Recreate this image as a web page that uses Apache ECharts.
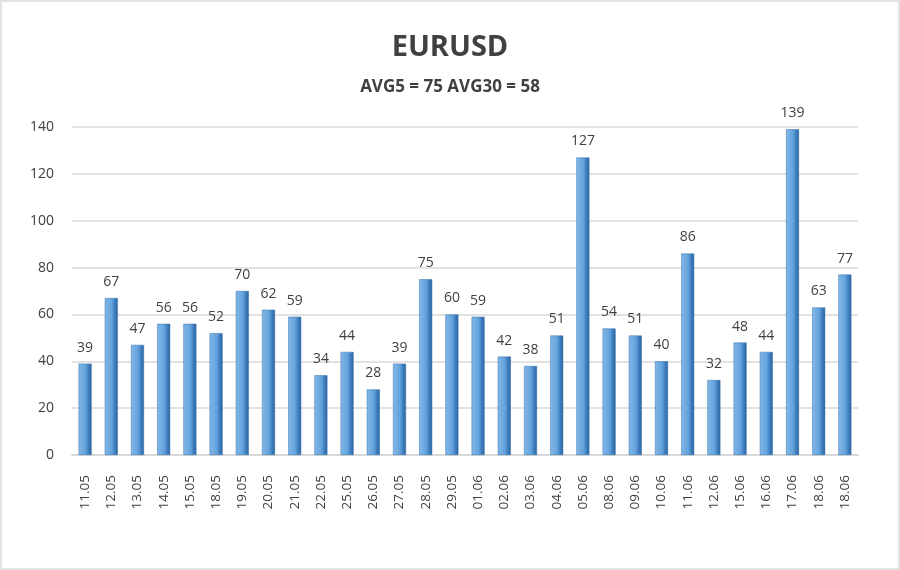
<!DOCTYPE html>
<html>
<head>
<meta charset="utf-8">
<script src="https://cdn.jsdelivr.net/npm/echarts@6/dist/echarts.min.js"></script>
<style>
  html, body { margin: 0; padding: 0; background: #fff; }
  #chart {
    width: 896px;
    height: 566px;
    border: 2px solid #e2e2e2;
  }
</style>
</head>
<body>
<div id="chart"></div>
<script>
// dates under each bar
const categories = ["11.05", "12.05", "13.05", "14.05", "15.05", "18.05", "19.05", "20.05", "21.05", "22.05",
  "25.05", "26.05", "27.05", "28.05", "29.05", "01.06", "02.06", "03.06", "04.06", "05.06",
  "08.06", "09.06", "10.06", "11.06", "12.06", "15.06", "16.06", "17.06", "18.06", "18.06"];
// daily volatility, points
const values = [39, 67, 47, 56, 56, 52, 70, 62, 59, 34,
  44, 28, 39, 75, 60, 59, 42, 38, 51, 127,
  54, 51, 40, 86, 32, 48, 44, 139, 63, 77];
const yTicks = [0, 20, 40, 60, 80, 100, 120, 140];
const titleText = "EURUSD";
const subText = "AVG5 = 75 AVG30 = 58";

const chart = echarts.init(document.getElementById("chart"));
const option = {
  animation: false,
  title: {
    text: titleText,
    subtext: subText,
    left: "center",
    top: 26,
    itemGap: 17,
    textStyle: {
      fontFamily: "Open Sans",
      fontSize: 29,
      fontWeight: "bold",
      color: "#404040",
    },
    subtextStyle: {
      fontFamily: "Open Sans",
      fontSize: 17,
      fontWeight: "bold",
      color: "#404040",
    },
  },
  grid: {
    left: 70,
    right: 40,
    top: 125,
    bottom: 113,
  },
  xAxis: {
    type: "category",
    data: categories,
    axisTick: { show: false },
    axisLine: { lineStyle: { color: "#d9d9d9", width: 2 } },
    axisLabel: {
      rotate: 90,
      margin: 20,
      fontFamily: "Open Sans",
      fontSize: 13.5,
      color: "#404040",
    },
  },
  yAxis: {
    type: "value",
    min: yTicks[0],
    max: yTicks[yTicks.length - 1],
    interval: 20,
    axisLine: { show: false },
    axisTick: { show: false },
    axisLabel: {
      margin: 18,
      fontFamily: "Open Sans",
      fontSize: 14,
      color: "#404040",
    },
    splitLine: { lineStyle: { color: "#d9d9d9", width: 1.5 } },
  },
  series: [
    {
      type: "bar",
      data: values,
      barWidth: 13,
      itemStyle: {
        color: new echarts.graphic.LinearGradient(0, 0, 1, 0, [
          { offset: 0, color: "#84b8e8" },
          { offset: 0.55, color: "#62a2dc" },
          { offset: 0.72, color: "#4585c4" },
          { offset: 1, color: "#2a639e" },
        ]),
        borderColor: "#3471ad",
        borderWidth: 0.5,
      },
      label: {
        show: true,
        position: "top",
        distance: 9,
        fontFamily: "Open Sans",
        fontSize: 14,
        color: "#404040",
      },
    },
  ],
};
chart.setOption(option);
</script>
</body>
</html>
